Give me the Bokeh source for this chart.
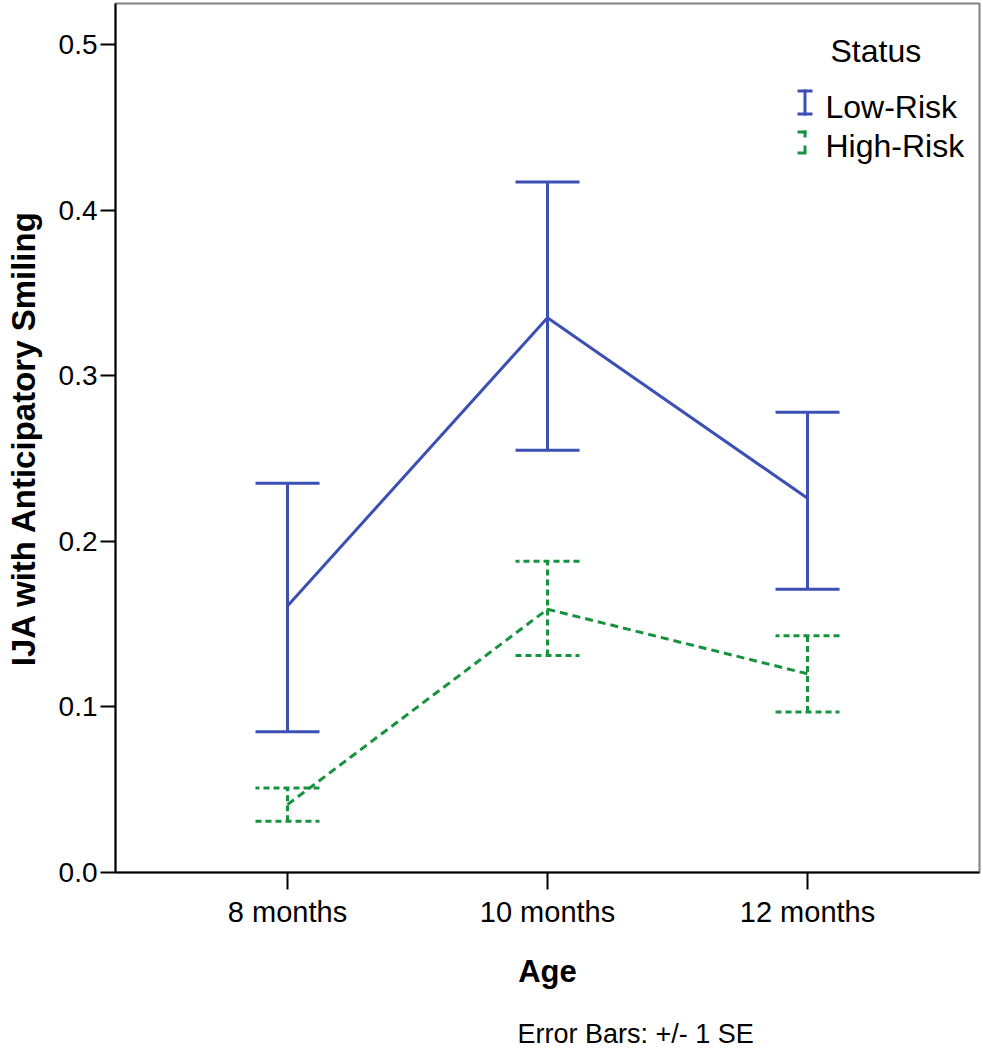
from bokeh.plotting import figure
from bokeh.layouts import column
from bokeh.models import (ColumnDataSource, Whisker, TeeHead, Label, BoxAnnotation,
                          FixedTicker, NumeralTickFormatter, Range1d)
from bokeh.embed import file_html
from bokeh.resources import INLINE

# ---------------- data ----------------
ages = ["8 months", "10 months", "12 months"]
low_mean = [0.161, 0.335, 0.226]
low_upper = [0.235, 0.417, 0.278]
low_lower = [0.085, 0.255, 0.171]
high_mean = [0.041, 0.159, 0.120]
high_upper = [0.051, 0.188, 0.143]
high_lower = [0.031, 0.131, 0.097]
y_ticks = [0.0, 0.1, 0.2, 0.3, 0.4, 0.5]
series_names = ["Low-Risk", "High-Risk"]
legend_title = "Status"
x_title = "Age"
y_title = "IJA with Anticipatory Smiling"
note = "Error Bars: +/- 1 SE"

BLUE = "#3c4fb4"
GREEN = "#17923f"
FONT = "Liberation Sans"

xpos = list(range(len(ages)))

p = figure(width=981, height=1016, output_backend="svg", toolbar_location=None,
           x_range=Range1d(-0.6615, 2.6615), y_range=Range1d(0, 0.5248),
           min_border_left=115, min_border_right=2, min_border_top=3, min_border_bottom=144)
p.background_fill_color = "white"
p.border_fill_color = "white"
p.outline_line_color = "#808080"
p.outline_line_width = 2
p.grid.visible = False

# axes
for ax in (p.xaxis[0], p.yaxis[0]):
    ax.axis_line_color = "black"
    ax.axis_line_width = 2
    ax.major_tick_line_color = "black"
    ax.major_tick_line_width = 2
    ax.major_tick_in = 0
    ax.minor_tick_line_color = None
    ax.major_label_text_font = FONT
    ax.major_label_text_color = "black"
    ax.axis_label_text_font = FONT
    ax.axis_label_text_font_style = "bold"
    ax.axis_label_text_color = "black"

p.xaxis.ticker = FixedTicker(ticks=xpos)
p.xaxis.major_label_overrides = {i: lab for i, lab in enumerate(ages)}
p.xaxis.major_tick_out = 17
p.xaxis.major_label_standoff = 6
p.xaxis.major_label_text_font_size = "29px"
p.xaxis.axis_label = x_title
p.xaxis.axis_label_text_font_size = "31px"
p.xaxis.axis_label_standoff = 23

p.yaxis.ticker = FixedTicker(ticks=y_ticks)
p.yaxis.formatter = NumeralTickFormatter(format="0.0")
p.yaxis.major_tick_out = 15
p.yaxis.major_label_standoff = 3
p.yaxis.major_label_text_font_size = "28px"
p.yaxis.axis_label = y_title
p.yaxis.axis_label_text_font_size = "33px"
p.yaxis.axis_label_standoff = 14

# series lines
p.line(xpos, low_mean, line_color=BLUE, line_width=3)
p.line(xpos, high_mean, line_color=GREEN, line_width=3, line_dash="8 5")

# error bars
low_src = ColumnDataSource(dict(base=xpos, upper=low_upper, lower=low_lower))
high_src = ColumnDataSource(dict(base=xpos, upper=high_upper, lower=high_lower))
p.add_layout(Whisker(base="base", upper="upper", lower="lower", source=low_src,
                     dimension="height", line_color=BLUE, line_width=3, level="glyph",
                     upper_head=TeeHead(size=64, line_color=BLUE, line_width=3),
                     lower_head=TeeHead(size=64, line_color=BLUE, line_width=3)))
p.add_layout(Whisker(base="base", upper="upper", lower="lower", source=high_src,
                     dimension="height", line_color=GREEN, line_width=3, line_dash="6 4",
                     level="glyph",
                     upper_head=TeeHead(size=64, line_color=GREEN, line_width=3, line_dash="6 4"),
                     lower_head=TeeHead(size=64, line_color=GREEN, line_width=3, line_dash="6 4")))

# legend (screen units relative to the frame, y measured from bottom)
def lbl(fig, text, x, y, size):
    fig.add_layout(Label(x=x, y=y, x_units="screen", y_units="screen", text=text,
                         text_font=FONT, text_font_size=size, text_color="black",
                         text_align="left", text_baseline="middle"))

lbl(p, legend_title, 715, 822, "32px")
lbl(p, series_names[0], 710, 766, "32px")
lbl(p, series_names[1], 710, 727, "32px")

def box(l, r, t, b, color):
    p.add_layout(BoxAnnotation(left=l, right=r, top=t, bottom=b,
                               left_units="screen", right_units="screen",
                               top_units="screen", bottom_units="screen",
                               fill_color=color, fill_alpha=1.0, line_alpha=0))

# blue I icon
box(682, 697, 783, 780, BLUE)
box(688, 691, 783, 757, BLUE)
box(682, 697, 760, 757, BLUE)
# green dashed bracket icon
box(682, 691, 742, 739, GREEN)
box(688, 691, 742, 735, GREEN)
box(688, 691, 727, 720, GREEN)
box(682, 691, 721, 718, GREEN)

# note strip below the chart (its frame is aligned with the main frame)
n = figure(width=981, height=34, output_backend="svg", toolbar_location=None,
           x_axis_location=None, y_axis_location=None,
           x_range=Range1d(0, 1), y_range=Range1d(0, 1),
           min_border_left=0, min_border_right=0, min_border_top=0, min_border_bottom=0)
n.outline_line_color = None
n.grid.visible = False
n.background_fill_color = "white"
n.border_fill_color = "white"
lbl(n, note, 402, 17, "27px")

layout = column(p, n, spacing=0)
open("out.html", "w").write(file_html(layout, INLINE))
